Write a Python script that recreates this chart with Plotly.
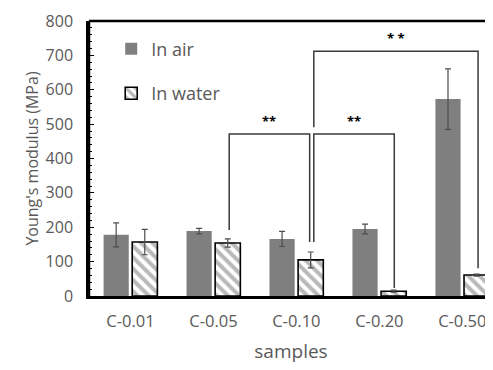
import plotly.graph_objects as go

categories = ["C-0.01", "C-0.05", "C-0.10", "C-0.20", "C-0.50"]
air_values = [178, 189, 166, 195, 573]
air_errors = [35, 8, 22, 14, 88]
water_values = [157, 154, 105, 14, 61]
water_errors = [37, 12, 23, 3, 3]
y_ticks = [0, 100, 200, 300, 400, 500, 600, 700, 800]

# significance brackets: (x_left, x_right, y_top, y_left_bottom, y_right_bottom)
brackets = [
    (1.19, 2.16, 471, 192, 157),
    (2.21, 3.18, 471, 157, 23),
    (2.21, 4.19, 712, 491, 81),
]
sig_labels = ["**", "**", "* *"]

font_family = "Open Sans, Liberation Sans, sans-serif"
gray_text = "#595959"

fig = go.Figure()
fig.add_trace(go.Bar(
    x=categories, y=air_values, name="In air",
    marker=dict(color="#7f7f7f", line=dict(width=0)),
    error_y=dict(type="data", array=air_errors, color="#4d4d4d", thickness=1.2, width=3),
    legendgroup="a",
))
fig.add_trace(go.Bar(
    x=categories, y=water_values, name="In water",
    marker=dict(color="white", line=dict(color="black", width=1.6),
                pattern=dict(shape="\\", fgcolor="#737373", bgcolor="white", size=8, solidity=0.5)),
    error_y=dict(type="data", array=water_errors, color="#4d4d4d", thickness=1.2, width=3),
    legendgroup="b",
))

for (xl, xr, yt, ylb, yrb), lab in zip(brackets, sig_labels):
    fig.add_shape(type="path",
                  path=f"M {xl} {ylb} L {xl} {yt} L {xr} {yt} L {xr} {yrb}",
                  xref="x", yref="y", line=dict(color="#3a3a3a", width=1.5))
    fig.add_annotation(x=(xl + xr) / 2, y=yt, text=f"<b>{lab}</b>", showarrow=False,
                       yanchor="bottom", yshift=2, font=dict(size=13, color="black", family=font_family))

# top border and left axis line
fig.add_shape(type="line", xref="paper", yref="paper", x0=0, x1=1, y0=1, y1=1,
              line=dict(color="black", width=2.5))
fig.add_shape(type="line", xref="paper", yref="paper", x0=0, x1=0, y0=0, y1=1,
              line=dict(color="black", width=2.5))

# page body has an 8px default margin, so the figure is drawn 8px smaller
fig.update_layout(
    width=485, height=362,
    margin=dict(l=81, r=0, t=13, b=74, autoexpand=False),
    plot_bgcolor="white", paper_bgcolor="white",
    barmode="group", bargap=0.31, bargroupgap=0.12,
    font=dict(family=font_family, color=gray_text),
    showlegend=True,
    legend=dict(x=0.055, y=0.965, xanchor="left", yanchor="top",
                font=dict(size=18, color=gray_text), tracegroupgap=18,
                bgcolor="rgba(0,0,0,0)", traceorder="grouped",
                itemwidth=30),
    xaxis=dict(range=[-0.5, 4.37], showline=True, linecolor="black", linewidth=2.5,
               automargin=False,
               ticks="", tickfont=dict(size=16.5, color=gray_text), ticklabelstandoff=8,
               title=dict(text="samples", font=dict(size=19, color=gray_text), standoff=15)),
    yaxis=dict(range=[0, 800], tickvals=y_ticks, showline=True, linecolor="black", linewidth=2.5,
               automargin=False,
               showgrid=False, zeroline=False,
               ticks="inside", ticklen=5, tickcolor="black", tickwidth=1,
               minor=dict(dtick=20, ticks="inside", ticklen=3, tickcolor="black", tickwidth=1, showgrid=False),
               tickfont=dict(size=16, color=gray_text), ticklabelstandoff=10,
               title=dict(text="Young's modulus (MPa)", font=dict(size=16, color=gray_text), standoff=3)),
)

fig.write_html("out.html")
